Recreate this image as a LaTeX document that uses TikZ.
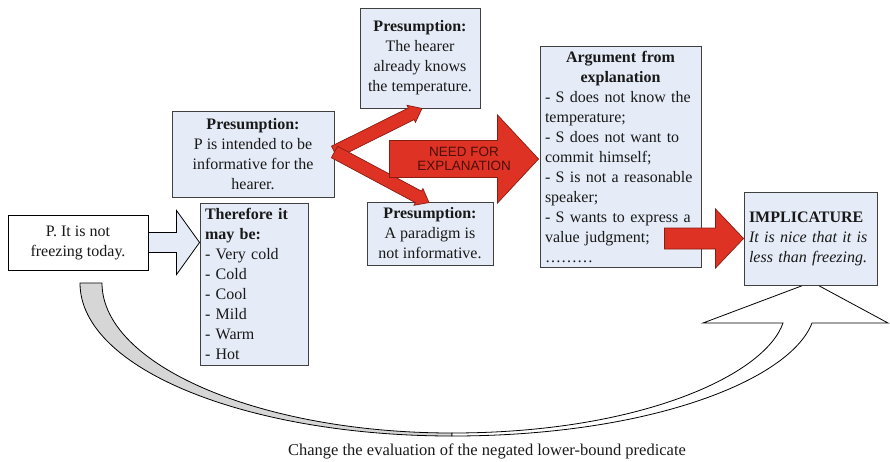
\documentclass[tikz,border=0pt]{standalone}
\usepackage{fontspec}
\setmainfont{Liberation Serif}
\setsansfont{Liberation Sans}
\usepackage{tikz}
\usetikzlibrary{calc,positioning}
\definecolor{boxfill}{HTML}{E5ECF7}
\definecolor{boxline}{HTML}{404040}
\definecolor{redfill}{HTML}{DE3324}
\definecolor{redline}{HTML}{8A1C12}
\definecolor{arcgray}{HTML}{D6D6D6}
\newcommand{\bodyfont}{\fontsize{16}{20}\selectfont}
% block arrow: [style]{tail}{tip}{shaft half}{head half}{head length}
\newcommand{\blockarr}[6][]{%
  \coordinate (hb) at ($(#3)!#6!(#2)$);
  \draw[#1] ($(#2)!#4!90:(#3)$) -- ($(hb)!#4!90:(#3)$) -- ($(hb)!#5!90:(#3)$)
    -- (#3) -- ($(hb)!#5!-90:(#3)$) -- ($(hb)!#4!-90:(#3)$)
    -- ($(#2)!#4!-90:(#3)$) -- cycle;
}
\tikzset{
  card/.style={draw=boxline,line width=0.9pt,fill=boxfill,inner sep=5pt,
    font=\bodyfont,text=black!90},
  pcard/.style={card,align=center},
  lcard/.style={card,align=left},
  redarr/.style={fill=redfill,draw=redline,line width=0.7pt,line join=miter},
  bluearr/.style={fill=boxfill,draw=black,line width=0.8pt,line join=miter},
  arcline/.style={draw=black,line width=0.8pt,line join=miter},
  needlab/.style={font=\sffamily\fontsize{13.5}{14.5}\selectfont,text=redline!55!black,align=center},
  caplab/.style={font=\fontsize{16.5}{19}\selectfont,text=black!90},
}
\begin{document}
\begin{tikzpicture}[x=1pt,y=-1pt]
  \useasboundingbox (0,0) rectangle (890,461);
  % the curved arrow underneath
  \draw[arcline,fill=arcgray] (80,283) .. controls (80,370) and (250,436) .. (452,436)
    -- (452,433) .. controls (260,433) and (102,365) .. (102,283) -- cycle;
  \draw[arcline,fill=white] (452,436) .. controls (650,436) and (790,380) .. (812,323)
    -- (888,323) -- (812,282) -- (703,323) -- (783,323)
    .. controls (765,375) and (640,433) .. (452,433) -- cycle;

  \node[pcard,fill=white,draw=black,minimum width=140pt,minimum height=55pt] (said) at (78,242.5)
    {P. It is not\\freezing today.};
  \node[lcard,text width=98pt,minimum height=162pt] (maybe) at (254,284)
    {\textbf{Therefore it}\\\textbf{may be:}\\- Very cold\\- Cold\\- Cool\\- Mild\\- Warm\\- Hot};
  \node[pcard,minimum width=162pt,minimum height=86pt] (informative) at (253,154)
    {\textbf{Presumption:}\\P is intended to be\\informative for the\\hearer.};
  \node[pcard,minimum width=120pt,minimum height=100pt] (knows) at (420,58)
    {\textbf{Presumption:}\\The hearer\\already knows\\the temperature.};
  \node[pcard,minimum width=126pt,minimum height=63pt] (paradigm) at (430,233.5)
    {\textbf{Presumption:}\\A paradigm is\\not informative.};
  \node[lcard,text width=151pt,minimum height=220pt] (explain) at (620.5,157)
    {{\centering\textbf{Argument from}\\\textbf{explanation}\par}
     - S does not know the\\ temperature;\\ - S does not want to\\ commit himself;\\
     - S is not a reasonable\\ speaker;\\ - S wants to express a\\ value judgment;\\
     \ldots\ldots\ldots};
  \node[lcard,text width=123pt,minimum height=93pt] (implic) at (810.5,238.5)
    {\textbf{IMPLICATURE}\\\textit{It is nice that it is}\\\textit{less than freezing.}};

  \coordinate (vtail) at ($(informative.east)+(0,-2)$);
  \coordinate (needtail) at ($(explain.west)+(-150,2)$);
  \coordinate (needtip) at ($(explain.west)+(-1,2)$);
  \coordinate (impltail) at ($(implic.west)+(-79,0)$);

  \blockarr[bluearr]{said.east}{maybe.west |- said.east}{10pt}{32pt}{23pt}
  \blockarr[redarr]{vtail}{$(knows.south)+(2,0)$}{6.5pt}{9.5pt}{12pt}
  \blockarr[redarr]{vtail}{$(paradigm.north)+(-1,1)$}{6.5pt}{9.5pt}{12pt}
  \blockarr[redarr]{needtail}{needtip}{18.5pt}{44pt}{41pt}
  \blockarr[redarr]{impltail}{implic.west}{10.5pt}{29.5pt}{28pt}
  \node[needlab] (need) at ($(needtail)!0.5!(needtip)$) {NEED FOR\\EXPLANATION};

  \node[caplab] (caption) at (487,451)
    {Change the evaluation of the negated lower-bound predicate};
\end{tikzpicture}
\end{document}
